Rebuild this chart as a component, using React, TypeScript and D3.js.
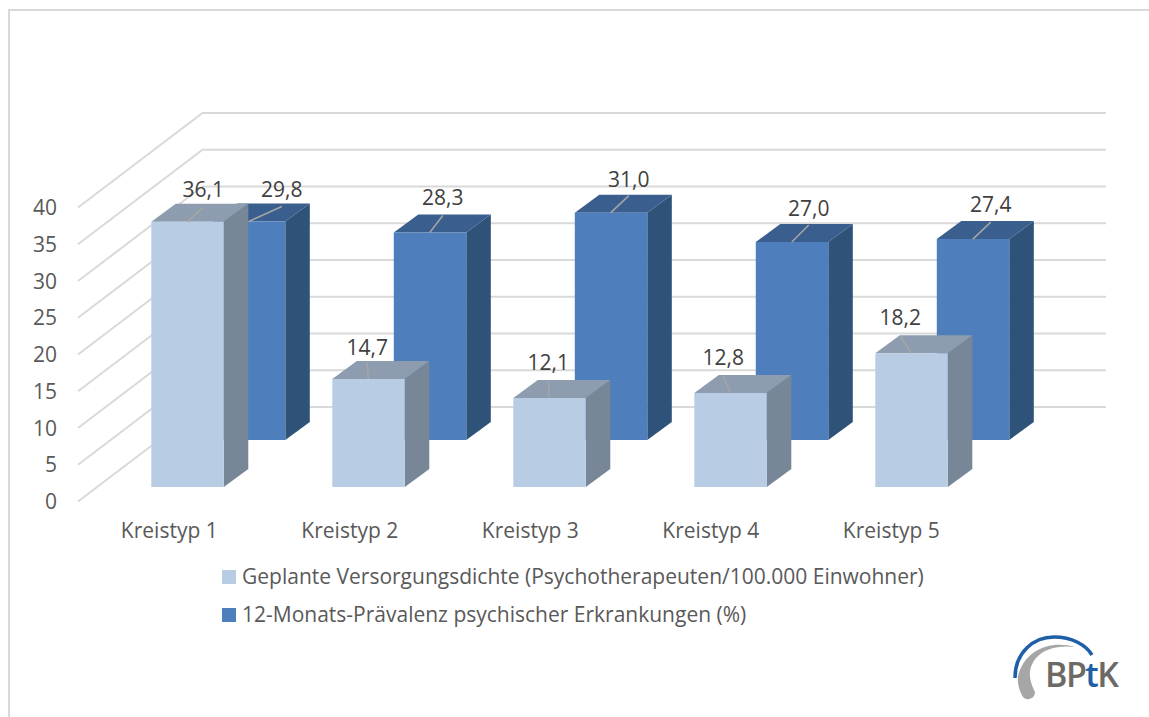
import React, { useEffect, useRef } from 'react';
import * as d3 from 'd3';

const categories = ['Kreistyp 1', 'Kreistyp 2', 'Kreistyp 3', 'Kreistyp 4', 'Kreistyp 5'];
const dichte = [36.1, 14.7, 12.1, 12.8, 18.2];
const praevalenz = [29.8, 28.3, 31.0, 27.0, 27.4];
const yTicks = [0, 5, 10, 15, 20, 25, 30, 35, 40];
const legendLabels = [
  'Geplante Versorgungsdichte (Psychotherapeuten/100.000 Einwohner)',
  '12-Monats-Prävalenz psychischer Erkrankungen (%)'
];

const FONT = '"Open Sans", sans-serif';

const WIDTH = 1149;
const HEIGHT = 717;

// manual label placement from the original chart (offset from bar left, gap above bar top)
const dichteLabelDx = [52, 35, 35, 29, 25];
const dichteLabelGap = [25, 24, 28, 28, 28];
const praevalenzLabelDx = [69, 49, 54, 53, 54];
const praevalenzLabelGap = [24, 27, 26, 26, 27];

const App: React.FC = () => {
  const svgRef = useRef<SVGSVGElement>(null);

  useEffect(() => {
    if (!svgRef.current) return;
    const svg = d3.select(svgRef.current);
    svg.selectAll('*').remove();

    // Rahmen
    svg.append('path')
      .attr('d', 'M9,717V10H1149')
      .attr('fill', 'none')
      .attr('stroke', '#d9d9d9')
      .attr('stroke-width', 2);

    // front plane of the light bars; dark row sits one step back
    const yScale = d3.scaleLinear().domain([0, 40]).range([487, 193]);
    const xBand = d3.scaleBand<string>()
      .domain(categories)
      .range([97, 1002])
      .paddingInner(0.6)
      .paddingOuter(0.3);
    const barW = 72.5;
    const depth = { dx: 24.5, dy: -18 };
    const rowShift = { dx: 61.5, dy: -47 };

    // Wand: floor corner to back corner
    const wall = { x0: 78, x1: 202.5, x2: 1106, back: -80, left: 14.5 };
    yTicks.forEach(t => {
      const y = yScale(t);
      const path = d3.path();
      path.moveTo(wall.x0, y + wall.left);
      path.lineTo(wall.x1, y + wall.back);
      path.lineTo(wall.x2, y + wall.back);
      svg.append('path')
        .attr('d', path.toString())
        .attr('fill', 'none')
        .attr('stroke', '#d9d9d9')
        .attr('stroke-width', 2);

      svg.append('text')
        .attr('x', 57)
        .attr('y', y + 22)
        .attr('text-anchor', 'end')
        .attr('font-family', FONT)
        .attr('font-size', 21)
        .attr('fill', '#595959')
        .text(t);
    });

    const drawBar = (x: number, base: number, top: number, c: { front: string; side: string; top: string }) => {
      const w = barW;
      const { dx, dy } = depth;
      const poly = (pts: [number, number][], fill: string) =>
        svg.append('polygon')
          .attr('points', pts.map(p => p.join(',')).join(' '))
          .attr('fill', fill);
      poly([[x + w, base], [x + w + dx, base + dy], [x + w + dx, top + dy], [x + w, top]], c.side);
      poly([[x, top], [x + dx, top + dy], [x + w + dx, top + dy], [x + w, top]], c.top);
      poly([[x, base], [x + w, base], [x + w, top], [x, top]], c.front);
    };

    const dark = { front: '#4e7fbc', side: '#2f5278', top: '#3a5f8f' };
    const light = { front: '#b8cce4', side: '#778797', top: '#8d9cae' };

    // hintere Reihe
    praevalenz.forEach((v, i) => {
      const x = xBand(categories[i])! + rowShift.dx;
      drawBar(x, yScale(0) + rowShift.dy, yScale(v) + rowShift.dy + 0.5, dark);
    });
    // vordere Reihe
    dichte.forEach((v, i) => {
      const x = xBand(categories[i])!;
      drawBar(x, yScale(0), yScale(v), light);
    });

    const leader = '#a6a6a6';
    const fmt = (v: number) => v.toFixed(1).replace('.', ',');
    const addLabel = (cx: number, y: number, v: number) =>
      svg.append('text')
        .attr('x', cx)
        .attr('y', y)
        .attr('text-anchor', 'middle')
        .attr('font-family', FONT)
        .attr('font-size', 21)
        .attr('fill', '#404040')
        .text(fmt(v));
    const addLeader = (x1: number, y1: number, x2: number, y2: number) =>
      svg.append('line')
        .attr('x1', x1).attr('y1', y1).attr('x2', x2).attr('y2', y2)
        .attr('stroke', leader)
        .attr('stroke-width', 1.5);

    praevalenz.forEach((v, i) => {
      const x = xBand(categories[i])! + rowShift.dx;
      const top = yScale(v) + rowShift.dy + 0.5;
      const cx = x + praevalenzLabelDx[i];
      addLeader(x + 36, top, cx, top - (i === 0 ? 15 : 17));
      addLabel(cx, top - praevalenzLabelGap[i], v);
    });
    dichte.forEach((v, i) => {
      const x = xBand(categories[i])!;
      const top = yScale(v);
      const cx = x + dichteLabelDx[i];
      addLeader(x + 36, top, cx, top - (i === 0 ? 14 : 17));
      addLabel(cx, top - dichteLabelGap[i], v);
    });

    categories.forEach((c, i) => {
      svg.append('text')
        .attr('x', xBand(c)! + 18 - i * 0.5)
        .attr('y', 538)
        .attr('text-anchor', 'middle')
        .attr('font-family', FONT)
        .attr('font-size', 21)
        .attr('fill', '#595959')
        .text(c);
    });

    // Legende
    legendLabels.forEach((l, i) => {
      const y = 570 + i * 38;
      svg.append('rect')
        .attr('x', 222).attr('y', y)
        .attr('width', 14).attr('height', 14)
        .attr('fill', i === 0 ? light.front : dark.front);
      svg.append('text')
        .attr('x', 242).attr('y', y + 14)
        .attr('font-family', FONT)
        .attr('font-size', 21)
        .attr('fill', '#595959')
        .text(l);
    });

    // BPtK-Logo
    const logo = svg.append('g');
    logo.append('path')
      .attr('d', 'M1075,647C1050,640 1025,650 1018,676C1017,684 1020,692 1023,697A7,7 0 0 0 1035,692C1028,678 1028,668 1036,658C1045,648 1060,645 1075,647Z')
      .attr('fill', '#a6a6a6');
    logo.append('path')
      .attr('d', 'M1015,678C1015,652 1034,637 1054,637C1072,637 1086,645 1092,655')
      .attr('fill', 'none')
      .attr('stroke', '#1f5fa8')
      .attr('stroke-width', 3.5);
    const logoText = logo.append('text')
      .attr('x', 1045).attr('y', 687)
      .attr('font-family', FONT)
      .attr('font-size', 34)
      .attr('font-weight', 600)
      .attr('letter-spacing', -1.5)
      .attr('fill', '#6d6a66');
    logoText.append('tspan').text('BP');
    logoText.append('tspan').attr('fill', '#1f5fa8').text('t');
    logoText.append('tspan').text('K');
  }, []);

  return (
    <svg
      ref={svgRef}
      width={WIDTH}
      height={HEIGHT}
      style={{ position: 'absolute', left: 0, top: 0, display: 'block', background: '#fff' }}
    />
  );
};

export default App;
